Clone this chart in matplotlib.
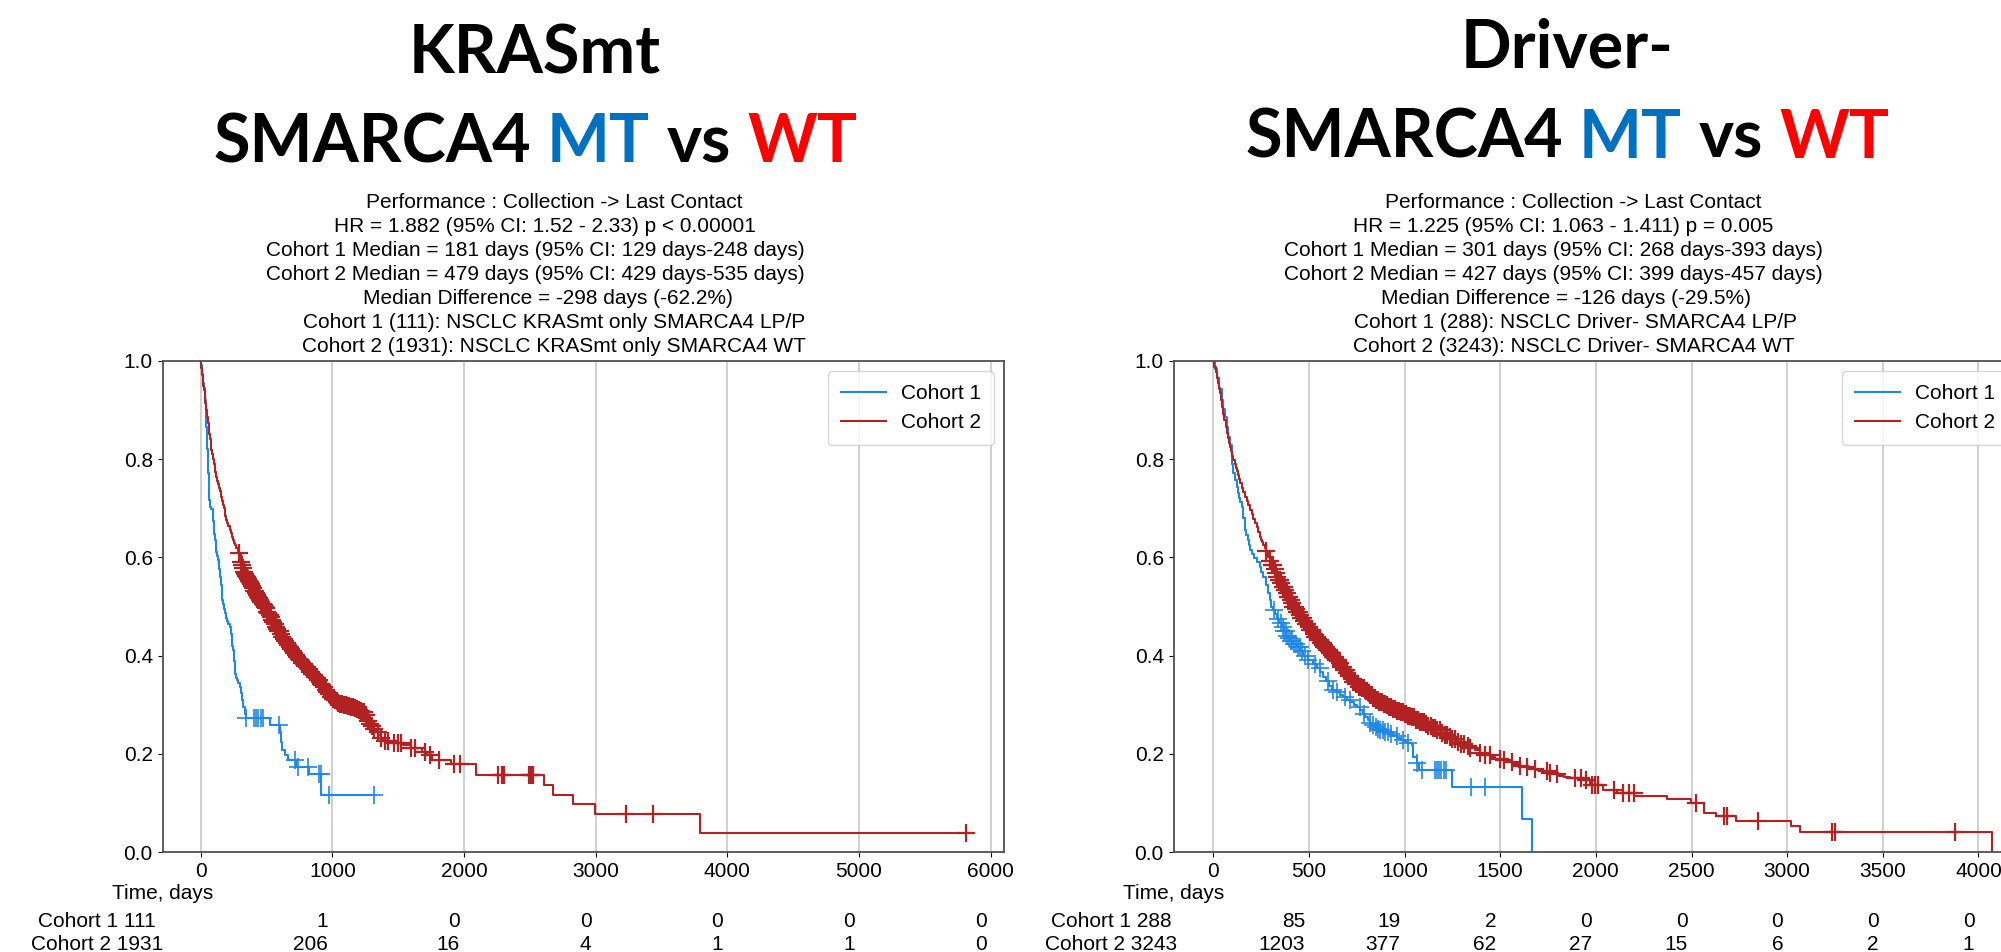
import numpy as np
import matplotlib
matplotlib.use("Agg")
import matplotlib.pyplot as plt
import matplotlib.transforms as mtransforms

plt.rcParams['font.family'] = ['Liberation Sans', 'DejaVu Sans']
plt.rcParams['font.size'] = 15

W, H = 2001, 952
BLUE = '#1e88e5'
RED = '#b22222'
MT_BLUE = '#0070c0'
WT_RED = '#ff0000'

# ---------------- KRASmt panel: (days, survival) ----------------
k_c1 = [(0, 1.0), (5, 0.991), (8, 0.982), (12, 0.973), (16, 0.964), (20, 0.955), (25, 0.946),
        (30, 0.935), (34, 0.92), (38, 0.90), (41, 0.883), (43, 0.866), (46, 0.848), (50, 0.82),
        (53, 0.8), (56, 0.771), (60, 0.75), (63, 0.735), (67, 0.716), (70, 0.703), (80, 0.698),
        (90, 0.693), (95, 0.675), (100, 0.66), (104, 0.648), (108, 0.635), (114, 0.622), (120, 0.612),
        (126, 0.603), (133, 0.594), (139, 0.577), (145, 0.56), (152, 0.543), (159, 0.526), (165, 0.514),
        (170, 0.505), (177, 0.495), (184, 0.486), (192, 0.477), (200, 0.47), (210, 0.464), (222, 0.458),
        (228, 0.445), (235, 0.43), (241, 0.42), (247, 0.411), (252, 0.39), (258, 0.37), (264, 0.362),
        (270, 0.355), (278, 0.35), (285, 0.345), (296, 0.336), (305, 0.323), (315, 0.31), (325, 0.295),
        (334, 0.282), (345, 0.273), (524, 0.258), (605, 0.244), (612, 0.225), (620, 0.207), (640, 0.198),
        (663, 0.187), (727, 0.173), (826, 0.159), (917, 0.1166), (1317, 0.1166)]
k_c1_cens = [347, 405, 422, 439, 456, 473, 595, 715, 740, 816, 900, 913, 977, 1317]

k_c2 = [(0, 1.0), (5, 0.985), (10, 0.972), (15, 0.96), (20, 0.95), (25, 0.94), (30, 0.93), (36, 0.915),
        (43, 0.90), (50, 0.885), (55, 0.874), (60, 0.862), (65, 0.851), (70, 0.841), (75, 0.83),
        (81, 0.819), (87, 0.81), (93, 0.80), (100, 0.79), (106, 0.782), (112, 0.773), (119, 0.764),
        (126, 0.756), (132, 0.749), (138, 0.742), (145, 0.735), (151, 0.729), (157, 0.723), (164, 0.714),
        (170, 0.707), (176, 0.70), (182, 0.694), (188, 0.685), (195, 0.676), (202, 0.671), (210, 0.664),
        (220, 0.655), (228, 0.649), (237, 0.642), (246, 0.635), (254, 0.630), (262, 0.625), (270, 0.62),
        (280, 0.614), (291, 0.608), (298, 0.598), (304, 0.59), (310, 0.585), (316, 0.579), (322, 0.574),
        (329, 0.570), (336, 0.566), (343, 0.563), (350, 0.56), (358, 0.556), (365, 0.552), (372, 0.549),
        (380, 0.545), (388, 0.541), (397, 0.537), (406, 0.532), (415, 0.528), (424, 0.524), (433, 0.520),
        (441, 0.517), (450, 0.513), (458, 0.509), (465, 0.506), (472, 0.503), (479, 0.50), (488, 0.496),
        (497, 0.492), (505, 0.489), (512, 0.486), (520, 0.483), (530, 0.478), (540, 0.473), (550, 0.468),
        (560, 0.464), (570, 0.459), (580, 0.455), (591, 0.450), (602, 0.445), (612, 0.441), (621, 0.437),
        (630, 0.434), (640, 0.43), (650, 0.426), (660, 0.422), (670, 0.418), (680, 0.414), (692, 0.41),
        (705, 0.405), (717, 0.401), (729, 0.397), (739, 0.394), (749, 0.391), (760, 0.388), (770, 0.385),
        (780, 0.382), (790, 0.379), (800, 0.376), (810, 0.373), (821, 0.37), (832, 0.367), (844, 0.363),
        (855, 0.36), (866, 0.357), (877, 0.354), (889, 0.35), (900, 0.347), (910, 0.343), (920, 0.34),
        (930, 0.336), (940, 0.333), (950, 0.329), (960, 0.326), (969, 0.3225), (980, 0.319), (990, 0.315),
        (1000, 0.312), (1010, 0.31), (1022, 0.307), (1034, 0.305), (1046, 0.303), (1058, 0.302),
        (1070, 0.301), (1085, 0.3), (1098, 0.299), (1110, 0.298), (1125, 0.297), (1140, 0.296),
        (1159, 0.295), (1172, 0.293), (1186, 0.292), (1200, 0.29), (1212, 0.288), (1224, 0.286),
        (1235, 0.285), (1248, 0.279), (1260, 0.272), (1273, 0.266), (1286, 0.261), (1300, 0.256),
        (1315, 0.25), (1330, 0.245), (1350, 0.239), (1367, 0.233), (1384, 0.227), (1450, 0.222),
        (1536, 0.217), (1600, 0.211), (1680, 0.204), (1716, 0.197), (1760, 0.187), (1904, 0.180),
        (2094, 0.156), (2607, 0.1356), (2673, 0.1166), (2830, 0.0968), (2992, 0.0771), (3792, 0.0383),
        (5812, 0.0383)]
k_c2_cens = [291, 304, 313, 321, 329, 337, 345, 352, 360, 367, 375, 383, 390, 398, 406, 413, 421, 429,
             437, 445, 453, 461, 470, 478, 487, 496, 505, 514, 523, 532, 542, 551, 561, 571, 581, 591,
             601, 611, 621, 632, 643, 654, 665, 676, 687, 698, 710, 722, 734, 746, 758, 770, 782, 795,
             807, 820, 833, 846, 859, 872, 885, 898, 911, 924, 937, 950, 963, 976, 990, 1004, 1018,
             1032, 1046, 1060, 1074, 1088, 1102, 1116, 1130, 1144, 1158, 1172, 1186, 1200, 1214, 1228,
             1243, 1258, 1273, 1288, 1303, 1320, 1345, 1372, 1398, 1420, 1468, 1497, 1520, 1600, 1630,
             1702, 1745, 1810, 1925, 1970, 2260, 2287, 2302, 2493, 2508, 2523, 3230, 3437, 5812]

k_ticks = [0, 1000, 2000, 3000, 4000, 5000, 6000]
k_risk1 = [111, 1, 0, 0, 0, 0, 0]
k_risk2 = [1931, 206, 16, 4, 1, 1, 0]
k_lines = ["Performance : Collection -> Last Contact",
           "HR = 1.882 (95% CI: 1.52 - 2.33) p < 0.00001",
           "Cohort 1 Median = 181 days (95% CI: 129 days-248 days)",
           "Cohort 2 Median = 479 days (95% CI: 429 days-535 days)",
           "Median Difference = -298 days (-62.2%)",
           "Cohort 1 (111): NSCLC KRASmt only SMARCA4 LP/P",
           "Cohort 2 (1931): NSCLC KRASmt only SMARCA4 WT"]

# ---------------- Driver- panel ----------------
d_c1 = [(0, 1.0), (10, 0.983), (20, 0.965), (32, 0.943), (44, 0.921), (52, 0.903), (60, 0.885),
        (70, 0.865), (79, 0.846), (88, 0.829), (96, 0.812), (100, 0.79), (105, 0.771), (113, 0.758),
        (122, 0.744), (128, 0.732), (135, 0.72), (141, 0.712), (148, 0.703), (157, 0.68), (166, 0.656),
        (173, 0.645), (180, 0.635), (186, 0.625), (192, 0.615), (203, 0.607), (215, 0.598), (230, 0.59),
        (244, 0.581), (252, 0.571), (261, 0.561), (274, 0.544), (287, 0.527), (294, 0.514), (301, 0.50),
        (314, 0.493), (325, 0.484), (335, 0.475), (346, 0.467), (357, 0.459), (368, 0.45), (380, 0.44),
        (390, 0.435), (400, 0.43), (418, 0.424), (436, 0.418), (453, 0.409), (470, 0.40), (495, 0.392),
        (520, 0.383), (540, 0.375), (558, 0.367), (574, 0.357), (590, 0.348), (605, 0.339), (619, 0.33),
        (640, 0.325), (660, 0.32), (678, 0.315), (697, 0.31), (716, 0.305), (735, 0.30), (751, 0.295),
        (767, 0.289), (781, 0.282), (795, 0.275), (807, 0.268), (819, 0.262), (832, 0.258), (845, 0.255),
        (858, 0.251), (871, 0.248), (893, 0.244), (915, 0.24), (937, 0.236), (959, 0.232), (980, 0.228),
        (1000, 0.225), (1018, 0.222), (1037, 0.218), (1045, 0.194), (1063, 0.181), (1075, 0.166),
        (1246, 0.132), (1615, 0.0666), (1664, 0.0)]
d_c1_cens = [318, 340, 352, 362, 370, 378, 386, 395, 404, 412, 421, 430, 441, 452, 466, 480, 497, 530,
             557, 600, 628, 648, 690, 714, 766, 790, 819, 836, 850, 862, 874, 886, 898, 912, 930, 958,
             993, 1020, 1063, 1093, 1160, 1171, 1182, 1193, 1204, 1215, 1347, 1420]

d_c2 = [(0, 1.0), (6, 0.988), (12, 0.977), (17, 0.965), (23, 0.955), (29, 0.944), (35, 0.934),
        (41, 0.92), (47, 0.906), (52, 0.893), (58, 0.879), (64, 0.866), (70, 0.853), (76, 0.843),
        (82, 0.834), (88, 0.825), (94, 0.816), (100, 0.807), (105, 0.798), (111, 0.79), (117, 0.782),
        (122, 0.775), (128, 0.767), (134, 0.759), (140, 0.751), (148, 0.742), (157, 0.733), (165, 0.724),
        (174, 0.715), (183, 0.706), (192, 0.697), (201, 0.688), (210, 0.679), (218, 0.67), (227, 0.661),
        (235, 0.651), (244, 0.642), (250, 0.636), (256, 0.631), (262, 0.625), (268, 0.619), (274, 0.614),
        (279, 0.608), (288, 0.6), (296, 0.593), (305, 0.585), (314, 0.577), (322, 0.569), (331, 0.561),
        (341, 0.554), (350, 0.547), (360, 0.54), (370, 0.533), (380, 0.527), (390, 0.52), (399, 0.513),
        (409, 0.507), (418, 0.50), (428, 0.494), (439, 0.488), (449, 0.482), (460, 0.476), (471, 0.47),
        (483, 0.464), (494, 0.458), (505, 0.452), (519, 0.445), (532, 0.438), (546, 0.432), (560, 0.425),
        (577, 0.418), (593, 0.412), (610, 0.405), (627, 0.398), (640, 0.391), (654, 0.384), (667, 0.377),
        (680, 0.37), (693, 0.364), (706, 0.358), (719, 0.353), (732, 0.347), (746, 0.342), (761, 0.337),
        (775, 0.333), (790, 0.328), (805, 0.323), (820, 0.319), (835, 0.314), (850, 0.31), (867, 0.306),
        (885, 0.302), (902, 0.299), (920, 0.295), (940, 0.292), (960, 0.288), (980, 0.285), (1000, 0.282),
        (1020, 0.278), (1040, 0.274), (1060, 0.269), (1080, 0.265), (1102, 0.261), (1124, 0.256),
        (1145, 0.252), (1167, 0.248), (1188, 0.243), (1208, 0.239), (1229, 0.234), (1250, 0.23),
        (1273, 0.225), (1296, 0.22), (1319, 0.216), (1342, 0.211), (1368, 0.207), (1394, 0.202),
        (1420, 0.198), (1447, 0.194), (1473, 0.19), (1500, 0.187), (1533, 0.183), (1566, 0.18),
        (1600, 0.176), (1630, 0.173), (1660, 0.17), (1690, 0.167), (1720, 0.164), (1750, 0.161),
        (1780, 0.158), (1808, 0.155), (1836, 0.153), (1864, 0.15), (1940, 0.1466), (1970, 0.1365),
        (2038, 0.126), (2108, 0.121), (2200, 0.114), (2373, 0.108), (2495, 0.099), (2565, 0.079),
        (2628, 0.0733), (2732, 0.0631), (3019, 0.0536), (3066, 0.0413), (4072, 0.0)]
d_c2_cens = [276, 298, 306, 313, 320, 327, 334, 341, 348, 355, 362, 369, 376, 383, 390, 397, 404, 411,
             418, 425, 432, 439, 446, 453, 460, 468, 476, 484, 492, 500, 508, 516, 524, 532, 540, 548,
             556, 564, 572, 580, 588, 596, 604, 612, 620, 628, 636, 644, 652, 660, 668, 676, 684, 692,
             700, 708, 716, 724, 732, 740, 748, 756, 764, 772, 780, 788, 796, 804, 812, 820, 828, 836,
             844, 852, 860, 868, 876, 884, 892, 900, 910, 920, 930, 940, 950, 960, 970, 980, 990, 1000,
             1010, 1020, 1030, 1040, 1050, 1060, 1070, 1080, 1090, 1100, 1112, 1124, 1136, 1148, 1160,
             1172, 1185, 1198, 1210, 1222, 1236, 1250, 1265, 1280, 1296, 1312, 1330, 1342, 1394, 1420,
             1446, 1498, 1520, 1560, 1603, 1640, 1681, 1742, 1760, 1795, 1890, 1920, 1951, 1978, 1995,
             2010, 2096, 2143, 2174, 2199, 2526, 2669, 2683, 2849, 3237, 3251, 3880]

d_ticks = [0, 500, 1000, 1500, 2000, 2500, 3000, 3500, 4000]
d_risk1 = [288, 85, 19, 2, 0, 0, 0, 0, 0]
d_risk2 = [3243, 1203, 377, 62, 27, 15, 6, 2, 1]
d_lines = ["Performance : Collection -> Last Contact",
           "HR = 1.225 (95% CI: 1.063 - 1.411) p = 0.005",
           "Cohort 1 Median = 301 days (95% CI: 268 days-393 days)",
           "Cohort 2 Median = 427 days (95% CI: 399 days-457 days)",
           "Median Difference = -126 days (-29.5%)",
           "Cohort 1 (288): NSCLC Driver- SMARCA4 LP/P",
           "Cohort 2 (3243): NSCLC Driver- SMARCA4 WT"]

fig = plt.figure(figsize=(W / 100, H / 100), dpi=100)
rend = fig.canvas.get_renderer()


def px_text(x, y, s, **kw):
    return fig.text(x / W, 1 - y / H, s, **kw)


def km_panel(rect, xlim, ticks, c1, c2, risk1, risk2, label_cx, leg_shift=0):
    ax = fig.add_axes(rect)
    for (pts, cens), col, lab, mew in [(c1, BLUE, 'Cohort 1', 1.2), (c2, RED, 'Cohort 2', 1.6)]:
        t = np.array([p[0] for p in pts])
        s = np.array([p[1] for p in pts])
        ax.step(t, s, where='post', color=col, lw=1.5, label=lab)
        # censor ticks sit on the curve at their time
        idx = np.searchsorted(t, np.array(cens), side='right') - 1
        ax.plot(cens, s[idx], '+', color=col, ms=12.5, mew=mew)
    ax.set_xlim(*xlim)
    ax.set_ylim(0, 1)
    ax.set_xticks(ticks)
    ax.set_yticks([0, 0.2, 0.4, 0.6, 0.8, 1.0])
    ax.set_yticklabels(['0.0', '0.2', '0.4', '0.6', '0.8', '1.0'])
    ax.tick_params(labelsize=15)
    ax.grid(axis='x', color='#c4c4c4', lw=1.1)
    ax.set_axisbelow(True)
    for sp in ax.spines.values():
        sp.set_color('#505050')
        sp.set_linewidth(1.3)
    ax_w = rect[2] * W
    ax.legend(loc='upper right', fontsize=15, borderpad=0.6, handlelength=2.2,
              handletextpad=0.7, bbox_to_anchor=(1 - leg_shift / ax_w, 1))

    # at-risk table under the axes
    left_px = rect[0] * W
    px_text(left_px, 899, 'Time, days', ha='center', va='baseline')
    px_text(label_cx, 927, f'Cohort 1 {risk1[0]}', ha='center', va='baseline')
    px_text(label_cx, 950, f'Cohort 2 {risk2[0]}', ha='center', va='baseline')
    tr = mtransforms.blended_transform_factory(ax.transData, fig.transFigure)
    tr = mtransforms.offset_copy(tr, fig=fig, x=-4, y=0, units='dots')
    for tk, a, b in zip(ticks[1:], risk1[1:], risk2[1:]):
        fig.text(tk, 1 - 927 / H, str(a), transform=tr, ha='right', va='baseline')
        fig.text(tk, 1 - 950 / H, str(b), transform=tr, ha='right', va='baseline')
    return ax


def text_w(s, **kw):
    t = fig.text(0, 0, s, **kw)
    w = t.get_window_extent(renderer=rend).width
    t.remove()
    return w


def title_block(first, cx, y1, y2):
    big = dict(family='Lato', fontweight='bold', fontsize=48)
    px_text(cx, y1, first, ha='center', va='baseline', color='black', **big)
    parts = [('SMARCA4', 'black', ''), ('MT', MT_BLUE, 'SMARCA4 '),
             ('vs', 'black', 'SMARCA4 MT '), ('WT', WT_RED, 'SMARCA4 MT vs ')]
    total = text_w('SMARCA4 MT vs WT', **big)
    xw = text_w('x', **big)
    x0 = cx - total / 2
    for s, col, prefix in parts:
        off = text_w(prefix + 'x', **big) - xw if prefix else 0
        px_text(x0 + off, y2, s, ha='left', va='baseline', color=col, **big)


ybot = (H - 852) / H
yh = 491 / H
km_panel([162.5 / W, ybot, 841.5 / W, yh], (-290, 6102), k_ticks,
         (k_c1, k_c1_cens), (k_c2, k_c2_cens), k_risk1, k_risk2, 97)
km_panel([1173.5 / W, ybot, 858.5 / W, yh], (-208, 4280), d_ticks,
         (d_c1, d_c1_cens), (d_c2, d_c2_cens), d_risk1, d_risk2, 1111, leg_shift=14)

title_block('KRASmt', 535, 73, 162)
title_block('Driver-', 1567, 68, 158)

k_cx = [554, 545, 535, 535, 548, 554, 554]
d_cx = [1573, 1563, 1553, 1553, 1566, 1575, 1574]
for i, (a, b) in enumerate(zip(k_lines, d_lines)):
    px_text(k_cx[i], 208 + 24 * i, a, ha='center', va='baseline', fontsize=15)
    px_text(d_cx[i], 208 + 24 * i, b, ha='center', va='baseline', fontsize=15)

fig.savefig('out.png', dpi=100)
